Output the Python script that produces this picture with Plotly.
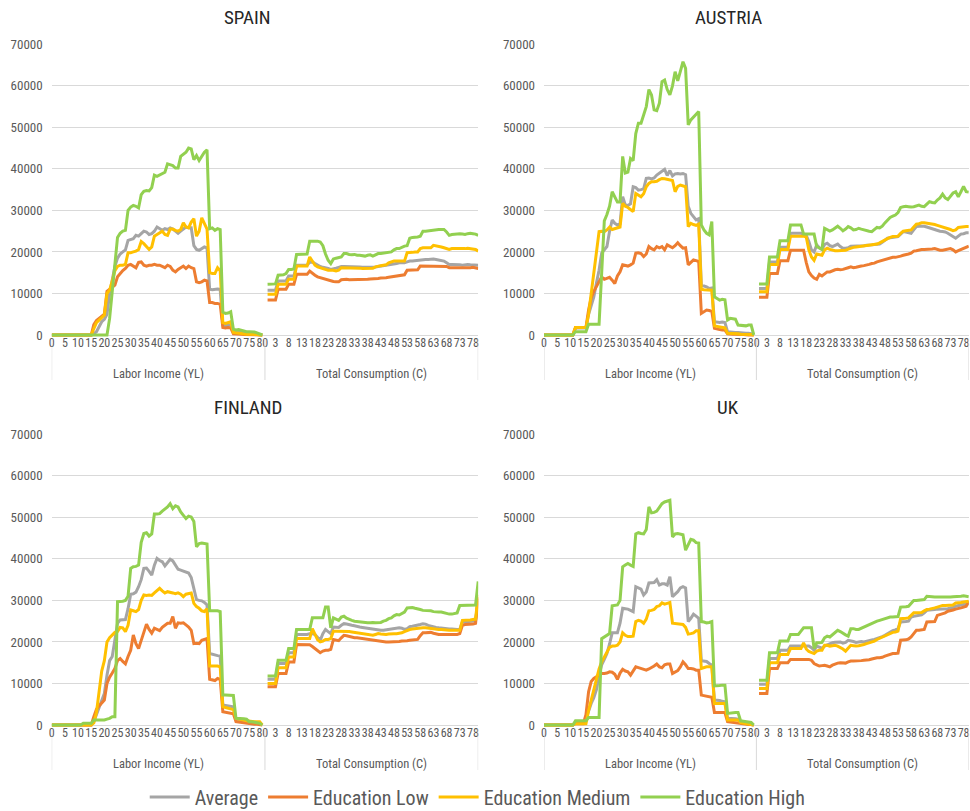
import plotly.graph_objects as go

# ---------------- data ----------------
AGES = list(range(81))
GROUP_LABELS = ["Labor Income (YL)", "Total Consumption (C)"]
SERIES_NAMES = ["Average", "Education Low", "Education Medium", "Education High"]
SERIES_COLORS = ["#A5A5A5", "#ED7D31", "#FFC000", "#92D050"]
COUNTRIES = ["SPAIN", "AUSTRIA", "FINLAND", "UK"]
Y_TICKS = [0, 10000, 20000, 30000, 40000, 50000, 60000, 70000]

# Spain
ES_YL_AVG = [0, 0, 0, 0, 0, 0, 0, 0, 0, 0,
             0, 0, 0, 0, 0, 0, 300, 800, 2000, 3200,
             3800, 5000, 10000, 13000, 16500, 18500, 19500, 20000, 20500, 22800,
             23000, 23200, 24000, 23800, 24400, 25000, 24800, 24200, 24400, 25000,
             26000, 25500, 25200, 25600, 25400, 25800, 25500, 25000, 24500, 25000,
             25400, 26000, 25800, 25800, 21500, 20600, 20400, 20800, 21200, 21000,
             11000, 10900, 11000, 11100, 11000, 2400, 2300, 2300, 2500, 800,
             700, 600, 500, 500, 400, 400, 300, 300, 200, 100, 0]
ES_YL_LOW = [0, 0, 0, 0, 0, 0, 0, 0, 0, 0,
             0, 0, 0, 0, 0, 0, 2500, 3500, 4000, 4500,
             5000, 10500, 11000, 11500, 12000, 14000, 14800, 15500, 16000, 16800,
             17000, 16500, 16200, 17500, 17600, 16800, 16600, 16800, 16800, 17000,
             16800, 16800, 16500, 16200, 16800, 16500, 15600, 15200, 15800, 16200,
             16600, 16000, 16600, 16200, 16000, 12800, 12600, 12800, 13200, 13000,
             7800, 7800, 7600, 7600, 7400, 1800, 1700, 1800, 1700, 300,
             300, 200, 200, 100, 100, 100, 100, 0, 0, 0, 0]
ES_YL_MED = [0, 0, 0, 0, 0, 0, 0, 0, 0, 0,
             0, 0, 0, 0, 0, 0, 1500, 3000, 3600, 4200,
             4800, 10000, 10800, 13000, 15500, 16500, 16800, 16800, 17000, 19800,
             19800, 20000, 20200, 20600, 22500, 22000, 21200, 20600, 21200, 23800,
             24200, 24600, 25000, 24200, 24000, 25500, 25500, 25200, 25000, 25400,
             27000, 26000, 25800, 27200, 28000, 23800, 25000, 28200, 27000, 25500,
             15000, 14800, 14800, 16200, 15500, 3000, 2800, 3000, 3200, 600,
             500, 500, 400, 300, 200, 200, 200, 100, 100, 0, 0]
ES_YL_HIGH = [0, 0, 0, 0, 0, 0, 0, 0, 0, 0,
              0, 0, 0, 0, 0, 0, 0, 0, 0, 0,
              0, 0, 4000, 11000, 18000, 23500, 24500, 25000, 25200, 30000,
              30800, 31200, 31000, 30600, 33800, 34600, 34800, 34700, 35500, 38500,
              38200, 38500, 38800, 39200, 41200, 41000, 40800, 40200, 40200, 43000,
              43400, 44000, 45000, 44800, 42200, 43200, 42000, 43000, 44000, 44600,
              25600, 25800, 25200, 25600, 25400, 5500, 5200, 5300, 5600, 1400,
              1200, 1300, 1100, 900, 800, 800, 800, 700, 500, 200, 0]
ES_C_AVG = [10800, 10800, 10800, 10800, 13000, 13000, 13000, 13000, 14200, 14200,
            14200, 16800, 16800, 16800, 16800, 16800, 17500, 17600, 17200, 16800,
            16500, 16300, 16200, 16000, 15800, 15900, 16100, 16300, 16500, 16500,
            16500, 16500, 16500, 16400, 16400, 16400, 16300, 16300, 16400, 16400,
            16400, 16400, 16500, 16600, 16700, 16800, 16800, 16900, 17000, 17200,
            17400, 17400, 17400, 17600, 17800, 17800, 17900, 18000, 18100, 18200,
            18200, 18200, 18300, 18300, 18200, 18100, 18000, 17800, 17400, 17000,
            17000, 17000, 16900, 16900, 16800, 16900, 17000, 16900, 16900, 16900, 16800]
ES_C_LOW = [8400, 8400, 8400, 8400, 11000, 11000, 11000, 11000, 12200, 12200,
            12200, 14600, 14600, 14600, 14600, 14600, 15400, 14800, 14400, 14000,
            13800, 13600, 13500, 13200, 13000, 12900, 12800, 12800, 13300, 13400,
            13400, 13300, 13300, 13400, 13300, 13300, 13400, 13300, 13400, 13500,
            13500, 13600, 13600, 13700, 13700, 13800, 13900, 14000, 14200, 14300,
            14400, 14400, 14500, 15600, 15600, 15600, 15700, 15700, 16600, 16600,
            16600, 16600, 16600, 16600, 16600, 16600, 16600, 16600, 16500, 16200,
            16200, 16200, 16100, 16100, 16200, 16100, 16200, 16200, 16300, 16200, 16000]
ES_C_MED = [9800, 9800, 9800, 9800, 12200, 12200, 12200, 12200, 13400, 13400,
            13400, 16600, 16600, 16600, 16600, 16600, 18800, 17800, 16800, 16400,
            16200, 16000, 15800, 15600, 15600, 15600, 15400, 15600, 16200, 16200,
            16200, 16200, 16200, 16200, 16100, 16100, 16000, 16000, 16000, 16000,
            16100, 16400, 16600, 16700, 16800, 16900, 17400, 17600, 17800, 17800,
            17800, 17800, 17800, 19800, 19800, 19900, 20000, 20000, 20800, 21000,
            21000, 21000, 21000, 21600, 21500, 21400, 21200, 21000, 20800, 20600,
            20800, 20800, 20800, 20700, 20800, 20800, 20900, 20800, 20700, 20600, 20200]
ES_C_HIGH = [12200, 12200, 12200, 12300, 14400, 14400, 14500, 14800, 15800, 15800,
             15900, 19400, 19400, 19400, 19400, 19500, 22600, 22600, 22600, 22600,
             22400, 21500, 19500, 18000, 17200, 18300, 18500, 18600, 18800, 19600,
             19600, 19400, 19300, 19400, 19200, 19200, 19100, 19000, 19200, 19300,
             19000, 19400, 19600, 19600, 19700, 19800, 20000, 20000, 20500, 20800,
             20800, 21200, 21400, 21500, 23300, 23500, 23500, 23600, 23800, 25000,
             25000, 25100, 25200, 25200, 25300, 25400, 25400, 25400, 24800, 24000,
             24200, 24300, 24300, 24400, 24300, 24200, 24400, 24500, 24400, 24300, 24000]

# Austria
AT_YL_AVG = [0, 0, 0, 0, 0, 0, 0, 0, 0, 0,
             0, 0, 1700, 1700, 1700, 1700, 1700, 5000, 7000, 9200,
             12500, 15600, 19700, 20500, 21300, 25000, 27700, 26900, 26500, 26800,
             33300, 31300, 31200, 31600, 35700, 35500, 34900, 35000, 35200, 37700,
             37800, 37600, 37800, 38500, 38900, 39500, 39900, 38400, 39600, 38300,
             38800, 38900, 38800, 38900, 38600, 31000, 29300, 28500, 27700, 28000,
             12000, 11800, 11600, 11200, 11300, 3200, 3100, 3000, 3100, 3000,
             800, 700, 700, 600, 600, 500, 500, 400, 400, 300, 0]
AT_YL_LOW = [0, 0, 0, 0, 0, 0, 0, 0, 0, 0,
             0, 0, 1800, 1800, 1800, 1800, 1800, 6000, 9000, 10500,
             11600, 13000, 14000, 13400, 13600, 13900, 13200, 12400, 14200, 15200,
             16900, 16700, 16600, 16900, 17300, 19700, 19800, 19600, 18900, 19500,
             21300, 20800, 20500, 21300, 21000, 21300, 20500, 21700, 21400, 21000,
             21500, 22200, 21500, 20900, 21000, 16900, 17500, 18100, 17900, 17700,
             5200, 5600, 6000, 5900, 5700, 1600, 1400, 1300, 1200, 1200,
             300, 200, 200, 200, 100, 100, 100, 0, 0, 0, 0]
AT_YL_MED = [0, 0, 0, 0, 0, 0, 0, 0, 0, 0,
             0, 0, 1800, 1800, 1800, 1800, 1800, 5000, 10000, 15500,
             19700, 24900, 25000, 24900, 25300, 26000, 25400, 25600, 25700, 26000,
             31700, 31000, 30700, 30200, 29700, 34100, 33700, 33300, 34000, 35700,
             36500, 36900, 36900, 37000, 37400, 37700, 37600, 37500, 37400, 37200,
             34500, 35800, 36100, 35900, 35700, 26100, 26900, 26600, 26400, 26700,
             11000, 10900, 10900, 10800, 10800, 2200, 2100, 1900, 1800, 1700,
             400, 400, 300, 300, 300, 200, 200, 200, 100, 100, 0]
AT_YL_HIGH = [0, 0, 0, 0, 0, 0, 0, 0, 0, 0,
              0, 0, 800, 800, 800, 800, 800, 2600, 2600, 2600,
              2600, 2600, 15000, 27500, 29000, 31000, 34500, 33300, 32000, 32000,
              43000, 39000, 39200, 42500, 42000, 48500, 51000, 51000, 53300, 55000,
              59100, 57800, 54200, 54000, 55800, 61000, 61400, 59100, 57800, 60000,
              63400, 61200, 63500, 65800, 64200, 50600, 51800, 52500, 53000, 53800,
              26500, 25300, 24500, 24100, 27300, 9200, 8800, 8400, 8600, 8500,
              3600, 4000, 3900, 3800, 2400, 2300, 2200, 2200, 2400, 2400, 0]
AT_C_AVG = [11200, 11200, 11200, 11200, 17600, 17600, 17600, 17600, 21100, 21100,
            21100, 21100, 24500, 24500, 24500, 24500, 24500, 24300, 24000, 22500,
            20500, 20000, 21700, 21000, 20600, 21800, 22100, 21500, 21300, 21600,
            21900, 21300, 20900, 20900, 21000, 21400, 21400, 21400, 21500, 21500,
            21500, 21600, 21600, 21700, 21800, 21800, 21900, 22300, 22800, 23300,
            23400, 23500, 23600, 23700, 24300, 24900, 24800, 24600, 24500, 25300,
            26100, 26200, 26200, 26200, 26000, 25800, 25600, 25400, 25100, 25000,
            24900, 24800, 24500, 24100, 23700, 23300, 23800, 24300, 24400, 24600, 24600]
AT_C_LOW = [9100, 9100, 9100, 9100, 14800, 14800, 14800, 14800, 17900, 17900,
            17900, 17900, 20400, 20400, 20400, 20400, 20400, 20400, 17500, 15200,
            14300, 13700, 13400, 14600, 14200, 14600, 15200, 15200, 15500, 15700,
            15800, 15700, 15800, 16100, 16200, 16400, 16200, 16300, 16500, 16600,
            16700, 16800, 17000, 17200, 17300, 17600, 17800, 18000, 18200, 18400,
            18600, 18700, 18700, 18800, 19000, 19200, 19300, 19500, 19700, 20200,
            20300, 20500, 20600, 20600, 20600, 20700, 20700, 20800, 20600, 20400,
            20400, 20500, 20600, 20800, 20500, 20000, 20300, 20600, 20900, 21200, 21400]
AT_C_MED = [10400, 10400, 10400, 10400, 17000, 17000, 17000, 17000, 20600, 20600,
            20600, 20600, 23800, 23800, 23800, 23800, 23800, 23800, 23600, 20500,
            18800, 18000, 19500, 19300, 19200, 20500, 20900, 20600, 20400, 20300,
            20300, 20300, 20300, 20400, 20700, 21000, 21100, 21200, 21300, 21300,
            21400, 21500, 21600, 21700, 21800, 21900, 22200, 22600, 22900, 23200,
            23500, 23700, 23700, 23800, 24500, 25000, 25100, 25200, 25300, 26000,
            26700, 26800, 27000, 27000, 26900, 26900, 26700, 26600, 26400, 26200,
            26100, 25900, 25700, 25400, 25100, 25300, 25900, 26000, 26000, 26100, 26100]
AT_C_HIGH = [12300, 12300, 12300, 12300, 18800, 18800, 18800, 18800, 22700, 22700,
             22700, 22700, 26500, 26500, 26500, 26500, 26500, 24300, 24300, 24300,
             24300, 24300, 21300, 21000, 20600, 25700, 25400, 25000, 25300, 25800,
             26200, 25700, 25100, 25500, 26100, 25800, 25300, 25400, 25700, 25500,
             25300, 25200, 25000, 24900, 25500, 25900, 25800, 26200, 27000, 27600,
             28300, 28600, 28900, 29500, 30700, 30900, 31000, 30900, 30800, 30900,
             31100, 31300, 31000, 30900, 31500, 32100, 31900, 31800, 32500, 33000,
             33900, 33000, 32600, 33300, 34200, 34500, 33300, 34500, 35800, 34500, 34400]

# Finland
FI_YL_AVG = [0, 0, 0, 0, 0, 0, 0, 0, 0, 0,
             0, 0, 0, 0, 0, 0, 800, 2500, 4400, 6000,
             7600, 12000, 15500, 16500, 20000, 24500, 25300, 25300, 25400, 28000,
             31500, 31600, 32000, 33300, 35000, 37700, 37800, 37000, 36100, 38500,
             40100, 39600, 39300, 38300, 39000, 39900, 39500, 38500, 37500, 37300,
             37100, 36900, 36600, 35500, 33000, 30200, 30000, 29900, 29500, 28900,
             17200, 17000, 16800, 16700, 16600, 4800, 4700, 4600, 4500, 4400,
             1200, 1100, 1000, 900, 800, 700, 600, 500, 500, 400, 0]
FI_YL_LOW = [0, 0, 0, 0, 0, 0, 0, 0, 0, 0,
             0, 0, 0, 0, 0, 0, 2000, 3800, 4600, 5300,
             6000, 10000, 11500, 12500, 13600, 15500, 16000, 15300, 14700, 16500,
             18000, 21700, 19600, 18400, 20500, 22800, 24300, 23000, 22100, 23300,
             23000, 22700, 23500, 24100, 24500, 24500, 26100, 23300, 24600, 24500,
             24600, 24100, 23600, 22800, 19600, 19700, 19600, 20400, 20600, 20800,
             11000, 10900, 10700, 11200, 11000, 3200, 3100, 3000, 2800, 2700,
             800, 700, 600, 500, 400, 300, 300, 200, 200, 100, 0]
FI_YL_MED = [0, 0, 0, 0, 0, 0, 0, 0, 0, 0,
             0, 0, 0, 0, 0, 0, 500, 3000, 8000, 13000,
             15500, 20000, 21000, 21700, 22300, 22500, 23500, 23400, 22500, 24000,
             27700, 27500, 27300, 27800, 30000, 31300, 31200, 31300, 31200, 31800,
             32400, 32900, 32300, 31800, 32100, 32000, 31800, 31600, 31800, 31500,
             30900, 31500, 31700, 31800, 29300, 28500, 28100, 27500, 27300, 28000,
             14200, 14200, 14200, 14200, 14000, 4400, 4200, 4000, 3800, 3700,
             1600, 1500, 1400, 1200, 1000, 900, 900, 800, 800, 800, 0]
FI_YL_HIGH = [0, 0, 0, 0, 0, 0, 0, 0, 0, 0,
              0, 0, 400, 400, 400, 400, 1200, 1200, 1200, 1200,
              1200, 1400, 1600, 2000, 2000, 29700, 29700, 29800, 30000, 31000,
              37700, 38100, 38200, 38500, 44000, 46100, 46300, 45500, 46000, 50800,
              50800, 50900, 51500, 51900, 52500, 53300, 52100, 52800, 52500, 51300,
              50500, 49700, 50300, 50100, 49000, 42900, 43700, 43800, 43700, 43600,
              27500, 27500, 27600, 27500, 27300, 7200, 7200, 7200, 7200, 7100,
              1600, 1600, 1500, 1500, 1400, 800, 800, 700, 500, 400, 0]
FI_C_AVG = [11000, 11000, 11000, 11000, 14800, 14800, 14800, 14800, 17400, 17400,
            17400, 21800, 21800, 21800, 21800, 21800, 22000, 22000, 21800, 21000,
            20400, 22000, 23000, 22500, 22000, 23600, 23600, 23500, 24000, 24400,
            24300, 24100, 24000, 23900, 23700, 23600, 23500, 23400, 23200, 23100,
            23000, 22900, 22800, 22800, 22800, 22900, 23000, 23100, 23200, 23300,
            23400, 23300, 23000, 23200, 23700, 23800, 23900, 24000, 24200, 24400,
            24300, 24000, 23800, 23600, 23500, 23400, 23300, 23200, 23200, 23100,
            23100, 23000, 23000, 23000, 24800, 24800, 24900, 24900, 25000, 25100, 30400]
FI_C_LOW = [9200, 9200, 9200, 9200, 12400, 12400, 12400, 12400, 15200, 15200,
            15200, 19400, 19400, 19400, 19400, 19400, 19300, 18900, 18400, 17900,
            17400, 17800, 18000, 18000, 18200, 20600, 20500, 20300, 21000, 21600,
            21500, 21300, 21200, 21000, 21000, 20900, 20800, 20800, 20700, 20500,
            20400, 20300, 20300, 20200, 20100, 20000, 20000, 20000, 20000, 20000,
            20100, 20200, 20200, 20300, 20400, 20500, 20500, 20600, 21500, 22200,
            22200, 22300, 22300, 22100, 21900, 21800, 21800, 21800, 21800, 21800,
            21800, 21800, 21800, 22000, 24000, 24200, 24200, 24200, 24300, 24500, 30800]
FI_C_MED = [10000, 10000, 10000, 10000, 13800, 13800, 13800, 13800, 16400, 16400,
            16400, 20800, 20800, 20800, 20800, 20800, 20800, 23200, 21800, 20500,
            20000, 20200, 20600, 20600, 20800, 22600, 22600, 22600, 22600, 22600,
            22600, 22500, 22400, 22300, 22200, 22100, 22000, 21900, 21800, 21700,
            21600, 21800, 22000, 21900, 21800, 21800, 21900, 22000, 22000, 22000,
            22100, 22200, 22500, 22800, 23000, 23100, 23200, 23300, 23300, 23400,
            23400, 23300, 23200, 23200, 23100, 23000, 23000, 22900, 22900, 22800,
            22800, 22800, 22800, 22800, 25200, 25200, 25300, 25300, 25400, 25500, 31400]
FI_C_HIGH = [11800, 11800, 11800, 11800, 15600, 15600, 15600, 15600, 18400, 18400,
             18400, 23000, 23000, 23000, 23000, 23000, 23000, 25800, 25800, 25800,
             25800, 25800, 28400, 28400, 23400, 25800, 25500, 25200, 26000, 26200,
             25700, 25400, 25200, 25000, 24900, 24800, 24800, 24700, 24600, 24600,
             24700, 24600, 24600, 24700, 25000, 25200, 25600, 25800, 26300, 26600,
             26500, 26800, 27200, 28200, 28300, 28300, 28100, 28000, 27800, 27600,
             27600, 27500, 27500, 27300, 27200, 27200, 27200, 27000, 26800, 26700,
             26700, 26800, 27000, 28800, 28800, 28800, 28800, 28800, 28800, 28900, 34600]

# UK
UK_YL_AVG = [0, 0, 0, 0, 0, 0, 0, 0, 0, 0,
             0, 0, 400, 400, 400, 400, 1500, 3500, 5200, 6600,
             8500, 12000, 14500, 15800, 17200, 19500, 22200, 22200, 22200, 24500,
             28100, 28000, 27900, 27600, 27300, 33300, 33000, 32700, 31300, 32000,
             34200, 34200, 34300, 35000, 33700, 34000, 34000, 33700, 35700, 30900,
             31500, 32100, 33000, 33300, 33000, 24900, 25700, 26700, 26200, 25700,
             15500, 15400, 15300, 14800, 14400, 6000, 6000, 5900, 5700, 5600,
             1600, 1600, 1500, 1500, 1400, 600, 500, 400, 300, 200, 0]
UK_YL_LOW = [0, 0, 0, 0, 0, 0, 0, 0, 0, 0,
             0, 0, 300, 300, 300, 300, 2500, 8000, 10500, 11200,
             11600, 12000, 12400, 12400, 12500, 12800, 12700, 12200, 11000, 12500,
             13400, 13000, 12800, 12000, 13000, 14000, 13800, 13600, 13400, 13200,
             13500, 13800, 14200, 14700, 14000, 13800, 14500, 14700, 14700, 12400,
             12800, 13100, 14000, 15200, 14500, 13600, 13600, 13500, 13200, 13200,
             7200, 7100, 7000, 6800, 6700, 3000, 3000, 3000, 3000, 3000,
             800, 700, 600, 500, 400, 300, 200, 200, 100, 100, 0]
UK_YL_MED = [0, 0, 0, 0, 0, 0, 0, 0, 0, 0,
             0, 0, 300, 300, 300, 300, 300, 3500, 6000, 9000,
             11000, 13500, 15200, 16200, 17500, 18700, 19000, 19000, 19200, 20000,
             22200, 21600, 21300, 21300, 21400, 24900, 25200, 25000, 24500, 25500,
             27500, 27600, 27800, 28500, 28700, 29400, 29100, 29300, 29500, 24500,
             24400, 24400, 24300, 24200, 23500, 21900, 22000, 22200, 22700, 22700,
             13600, 13800, 14000, 14000, 14000, 5200, 5200, 5200, 5200, 5200,
             1200, 1200, 1200, 1200, 1200, 600, 500, 400, 300, 200, 0]
UK_YL_HIGH = [0, 0, 0, 0, 0, 0, 0, 0, 0, 0,
              0, 0, 1000, 1000, 1000, 1000, 1000, 1800, 1800, 1800,
              1800, 1800, 20800, 21200, 21700, 22000, 28700, 28800, 28900, 30000,
              38100, 38500, 38900, 38500, 38200, 46000, 46300, 46100, 46000, 47100,
              52500, 51100, 51200, 51500, 52500, 53300, 53700, 53900, 54100, 45300,
              46000, 46100, 46000, 45800, 42100, 43300, 44700, 44500, 43900, 43800,
              24900, 24800, 24600, 24700, 24900, 9400, 9400, 9500, 9600, 9600,
              2800, 2900, 2900, 3000, 3000, 1000, 900, 800, 700, 600, 0]
UK_C_AVG = [9800, 9800, 9800, 9800, 16000, 16000, 16000, 16000, 18000, 18000,
            18000, 18000, 19000, 19000, 19000, 19000, 19000, 19000, 19000, 19000,
            18600, 18000, 19000, 18700, 18500, 19000, 19300, 19500, 19800, 19900,
            20000, 20000, 19700, 19900, 20400, 20300, 20100, 19900, 20000, 20100,
            20000, 20200, 20400, 20500, 20600, 20800, 21000, 21300, 21600, 22000,
            22400, 22700, 22900, 23200, 24800, 24800, 24900, 25000, 26000, 26200,
            26300, 26400, 26500, 27000, 27600, 27700, 27700, 27800, 27900, 27900,
            28000, 28000, 28000, 28200, 28300, 28600, 28800, 28900, 29000, 29100, 29200]
UK_C_LOW = [7600, 7600, 7600, 7600, 13600, 13600, 13600, 13600, 15000, 15000,
            15000, 15000, 15800, 15800, 15800, 15800, 15800, 15800, 15800, 15800,
            15600, 14800, 14500, 14200, 14300, 14400, 14200, 14000, 14400, 14700,
            14900, 15000, 15000, 14900, 15200, 15400, 15400, 15400, 15400, 15500,
            15600, 15600, 15700, 15900, 16100, 16200, 16200, 16300, 16600, 16800,
            17000, 17200, 17200, 17300, 20400, 20400, 20500, 20700, 21200, 22000,
            22800, 22800, 22900, 23000, 24800, 24800, 24800, 24900, 26400, 26600,
            26800, 27000, 27400, 27500, 27700, 27900, 28000, 28200, 28400, 28600, 29800]
UK_C_MED = [8800, 8800, 8800, 8800, 15000, 15000, 15000, 15000, 17000, 17000,
            17000, 17000, 18400, 18400, 18400, 18400, 18400, 19800, 18300, 17700,
            17400, 17200, 17800, 18000, 18000, 19200, 19200, 19000, 19100, 19200,
            19000, 18700, 18300, 17800, 18500, 19200, 19100, 19000, 19100, 19200,
            19400, 19600, 19800, 20000, 20200, 20600, 20900, 21200, 21400, 21700,
            22100, 22300, 22400, 22600, 25600, 25600, 25700, 25800, 26400, 27000,
            27000, 27000, 27100, 27500, 27800, 27900, 28000, 28200, 28400, 28600,
            28800, 28800, 28800, 28800, 28900, 29400, 29400, 29500, 29600, 29700, 29800]
UK_C_HIGH = [10800, 10800, 10800, 10800, 17400, 17400, 17400, 17400, 20200, 20200,
             20200, 20200, 21800, 21800, 21800, 21800, 22600, 23400, 23400, 23400,
             23400, 18400, 19800, 19800, 19900, 21000, 21400, 21200, 21800, 22400,
             22800, 22500, 22000, 21700, 21400, 23200, 23200, 23000, 23000, 23300,
             23600, 23900, 24300, 24600, 24800, 25000, 25200, 25400, 25600, 25800,
             26000, 26000, 26100, 26100, 28400, 28400, 28500, 28600, 29200, 30000,
             30000, 30100, 30200, 30200, 31000, 31000, 30900, 30800, 30800, 30800,
             30700, 30700, 30800, 30800, 30900, 30900, 30900, 31000, 31100, 31000, 30900]

PANEL_DATA = {
    "SPAIN": ([ES_YL_AVG, ES_YL_LOW, ES_YL_MED, ES_YL_HIGH], [ES_C_AVG, ES_C_LOW, ES_C_MED, ES_C_HIGH]),
    "AUSTRIA": ([AT_YL_AVG, AT_YL_LOW, AT_YL_MED, AT_YL_HIGH], [AT_C_AVG, AT_C_LOW, AT_C_MED, AT_C_HIGH]),
    "FINLAND": ([FI_YL_AVG, FI_YL_LOW, FI_YL_MED, FI_YL_HIGH], [FI_C_AVG, FI_C_LOW, FI_C_MED, FI_C_HIGH]),
    "UK": ([UK_YL_AVG, UK_YL_LOW, UK_YL_MED, UK_YL_HIGH], [UK_C_AVG, UK_C_LOW, UK_C_MED, UK_C_HIGH]),
}

for _c, (_yl, _cc) in PANEL_DATA.items():
    for _s in _yl + _cc:
        assert len(_s) == len(AGES), (_c, len(_s))

# ---------------- layout helpers ----------------
W, H = 970, 811
FONT = "Roboto Condensed, Liberation Sans Narrow, Roboto, sans-serif"
TXT = "#595959"
GRID = "#D9D9D9"

N = len(AGES)
YL_POS = [a for a in AGES]                 # category slots of the first group
C_POS = [N + 1 + a for a in AGES]          # second group (one empty slot between)
X_MAX = C_POS[-1]
TICKVALS = [p for a, p in zip(AGES, YL_POS) if a % 5 == 0] + [p for a, p in zip(AGES, C_POS) if a % 5 == 3]
TICKTEXT = [str(a) for a in AGES if a % 5 == 0] + [str(a) for a in AGES if a % 5 == 3]
GROUP_BOUNDS = [YL_POS[0], N, X_MAX]
GROUP_CENTERS = [(GROUP_BOUNDS[0] + GROUP_BOUNDS[1]) / 2, (GROUP_BOUNDS[1] + GROUP_BOUNDS[2]) / 2]

Y_PAD = 700  # small pad below zero so the zero-level lines are not clipped

def px_x(p):
    return p / W

def px_y(p):
    return 1 - p / H

# pixel geometry of the four panels: (left, right), (top(70000), bottom(0))
COLS = [(51.7, 478.2), (544.0, 968.8)]
ROWS = [(44.3, 335.0), (434.3, 725.0)]
TITLE_X = [248, 728]
TITLE_Y = [18, 408]

fig = go.Figure()
annotations = []
shapes = []

for k, country in enumerate(COUNTRIES):
    r, c = divmod(k, 2)
    xl, xr = COLS[c]
    yt, yb = ROWS[r]
    scale = (yb - yt) / Y_TICKS[-1]
    yb_ext = yb + Y_PAD * scale
    ax = "" if k == 0 else str(k + 1)
    xa, ya = "xaxis" + ax, "yaxis" + ax
    fig.update_layout(**{
        xa: dict(domain=[px_x(xl), px_x(xr)], anchor="free", position=px_y(yb - 1.5), range=[0, X_MAX],
                 showgrid=False, zeroline=False, showline=False, ticks="",
                 tickmode="array", tickvals=TICKVALS, ticktext=TICKTEXT, tickangle=0,
                 tickfont=dict(family=FONT, size=12, color=TXT), fixedrange=True),
        ya: dict(domain=[px_y(yb_ext), px_y(yt)], anchor="x" + ax, range=[-Y_PAD, Y_TICKS[-1]],
                 tickmode="array", tickvals=Y_TICKS, ticktext=[str(v) for v in Y_TICKS],
                 showgrid=True, gridcolor=GRID, gridwidth=1, zeroline=False, showline=False,
                 ticks="", ticklabelstandoff=8,
                 tickfont=dict(family=FONT, size=13, color=TXT), fixedrange=True),
    })
    yl_series, c_series = PANEL_DATA[country]
    for s in range(len(SERIES_NAMES)):
        xs = YL_POS + [None] + C_POS
        ys = yl_series[s] + [None] + c_series[s]
        fig.add_trace(go.Scatter(
            x=xs, y=ys, mode="lines", name=SERIES_NAMES[s],
            line=dict(color=SERIES_COLORS[s], width=3),
            connectgaps=False, legendgroup=SERIES_NAMES[s], showlegend=(k == 0),
            xaxis="x" + ax, yaxis="y" + ax, hoverinfo="skip"))
    # title
    annotations.append(dict(text=country, x=px_x(TITLE_X[c]), y=px_y(TITLE_Y[r]), xref="paper", yref="paper",
                            showarrow=False, xanchor="center", yanchor="middle",
                            font=dict(family=FONT, size=19, color="#262626")))
    # group labels
    for g, gc in enumerate(GROUP_CENTERS):
        annotations.append(dict(text=GROUP_LABELS[g], x=gc, xref="x" + ax, y=px_y(yb + 38), yref="paper",
                                showarrow=False, xanchor="center", yanchor="middle",
                                font=dict(family=FONT, size=12.5, color=TXT)))
    # group separators
    for b in GROUP_BOUNDS:
        shapes.append(dict(type="line", xref="x" + ax, yref="paper", x0=b, x1=b,
                           y0=px_y(yb + 4), y1=px_y(yb + 45), line=dict(color=GRID, width=1)))

fig.update_layout(
    width=W, height=H, margin=dict(l=0, r=0, t=0, b=0, autoexpand=False),
    paper_bgcolor="white", plot_bgcolor="white",
    annotations=annotations, shapes=shapes,
    showlegend=True,
    legend=dict(orientation="h", x=0.4925, xanchor="center", y=px_y(797), yanchor="middle",
                font=dict(family=FONT, size=20, color=TXT), itemwidth=40, tracegroupgap=0,
                bgcolor="rgba(0,0,0,0)"),
)

fig.write_html("out.html")
